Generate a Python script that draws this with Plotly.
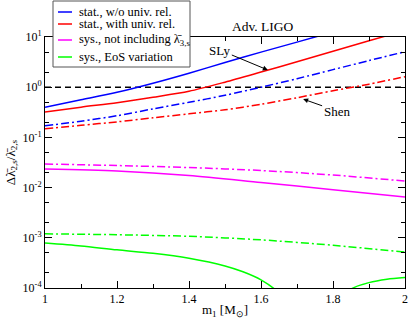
import numpy as np
import plotly.graph_objects as go

# ---- data ----
m_stat = [1.0, 1.1, 1.2, 1.3, 1.4, 1.5, 1.6, 1.7, 1.8, 1.9, 2.0]
blue_solid = [0.40, 0.56, 0.79, 1.2, 1.9, 3.1, 5.0, 7.9, 12.6, 20.0, 32.0]
red_solid = [0.32, 0.40, 0.49, 0.63, 0.83, 1.26, 2.0, 3.2, 5.2, 8.4, 13.5]
blue_dashdot = [0.17, 0.21, 0.27, 0.37, 0.50, 0.69, 1.0, 1.48, 2.24, 3.39, 5.1]
red_dashdot = [0.148, 0.174, 0.204, 0.245, 0.295, 0.355, 0.457, 0.617, 0.85, 1.15, 1.62]

m_sys = [1.0, 1.2, 1.4, 1.6, 1.8, 2.0]
magenta_dashdot = [0.0295, 0.0275, 0.0251, 0.0219, 0.0178, 0.0135]
magenta_solid = [0.0234, 0.0214, 0.0174, 0.0126, 0.0091, 0.0065]
green_dashdot = [0.0012, 0.00115, 0.00107, 0.00091, 0.00071, 0.00052]

m_eos = [1.0, 1.1, 1.2, 1.3, 1.4, 1.5, 1.55, 1.6, 1.65, 1.7, 1.75, 1.8, 1.85, 1.9, 1.95, 2.0]
green_solid = [7.9e-4, 6.9e-4, 5.75e-4, 4.9e-4, 3.9e-4, 2.75e-4, 2.1e-4, 1.45e-4, 8e-5,
               3e-5, 5e-6, 4e-5, 9.5e-5, 1.28e-4, 1.5e-4, 1.62e-4]

threshold_x = [1.0, 2.0]
threshold_y = [1.0, 1.0]

legend_labels = ["stat., w/o univ. rel.", "stat., with univ. rel.",
                 "sys., not including λ̄<sub>3,s</sub>", "sys., EoS variation"]
legend_colors = ["#0000ff", "#ff0000", "#ff00ff", "#00ff00"]

ytick_vals = [1e-4, 1e-3, 1e-2, 1e-1, 1, 10]
ytick_text = ["10<sup>-4</sup>", "10<sup>-3</sup>", "10<sup>-2</sup>", "10<sup>-1</sup>",
              "10<sup>0</sup>", "10<sup>1</sup>"]
xtick_vals = [1.0, 1.2, 1.4, 1.6, 1.8, 2.0]
xtick_text = ["1", "1.2", "1.4", "1.6", "1.8", "2"]

FONT = "Liberation Serif"
DD = "8px,3px,2px,3px"
LW = 1.5

fig = go.Figure()

def add(x, y, color, dash="solid"):
    fig.add_trace(go.Scatter(x=x, y=y, mode="lines", line=dict(color=color, width=LW, dash=dash, shape="spline", smoothing=0.8),
                             showlegend=False, hoverinfo="skip"))

add(threshold_x, threshold_y, "black", "6px,4px")
add(m_stat, blue_solid, "#0000ff")
add(m_stat, red_solid, "#ff0000")
add(m_stat, blue_dashdot, "#0000ff", DD)
add(m_stat, red_dashdot, "#ff0000", DD)
add(m_sys, magenta_dashdot, "#ff00ff", DD)
add(m_sys, magenta_solid, "#ff00ff")
add(m_sys, green_dashdot, "#00ff00", DD)
add(m_eos, green_solid, "#00ff00")

W, H = 409, 319
L, R, T, B = 45, 4, 37, 31
pw, ph = W - L - R, H - T - B

def px2paper(x, y):
    return (x - L) / pw, (H - B - y) / ph

shapes = []
annotations = []
# legend box
x0, y0 = px2paper(53, 1)
x1, y1 = px2paper(190, 67)
shapes.append(dict(type="rect", xref="paper", yref="paper", x0=x0, y0=y1, x1=x1, y1=y0,
                   line=dict(color="#555555", width=1), fillcolor="white", layer="above"))
leg_y = [12, 24, 40, 57]
for lab, col, yy in zip(legend_labels, legend_colors, leg_y):
    lx0, ly = px2paper(58, yy)
    lx1, _ = px2paper(72, yy)
    shapes.append(dict(type="line", xref="paper", yref="paper", x0=lx0, x1=lx1, y0=ly, y1=ly,
                       line=dict(color=col, width=LW), layer="above"))
    tx, ty = px2paper(77, yy)
    annotations.append(dict(text=lab, xref="paper", yref="paper", x=tx, y=ty, xanchor="left", yanchor="middle",
                            showarrow=False, font=dict(family=FONT, size=12.5, color="black")))

# title
tx, ty = px2paper(263, 26)
annotations.append(dict(text="Adv. LIGO", xref="paper", yref="paper", x=tx, y=ty, xanchor="center", yanchor="middle",
                        showarrow=False, font=dict(family=FONT, size=13.5, color="black")))

# arrows
annotations.append(dict(text="SLy", x=1.619, y=np.log10(2.2), xref="x", yref="y", ax=-48, ay=-20,
                        showarrow=True, arrowhead=2, arrowsize=1, arrowwidth=1, arrowcolor="black",
                        font=dict(family=FONT, size=13, color="black")))
annotations.append(dict(text="Shen", x=1.717, y=np.log10(0.58), xref="x", yref="y", ax=34, ay=12,
                        showarrow=True, arrowhead=2, arrowsize=1, arrowwidth=1, arrowcolor="black",
                        font=dict(family=FONT, size=13, color="black")))

axis_common = dict(showline=True, linecolor="black", linewidth=1, mirror="allticks", ticks="inside",
                   tickcolor="black", ticklen=7, tickwidth=1, showgrid=False, zeroline=False,
                   tickfont=dict(family=FONT, size=12, color="black"), automargin=False)

fig.update_layout(
    width=W, height=H, margin=dict(l=L, r=R, t=T, b=B),
    paper_bgcolor="white", plot_bgcolor="white",
    shapes=shapes, annotations=annotations,
    xaxis=dict(range=[1, 2], tickvals=xtick_vals, ticktext=xtick_text,
               minor=dict(ticks="inside", ticklen=4, tickcolor="black", dtick=0.1, showgrid=False),
               title=dict(text="m<sub>1</sub> [M<sub>⊙</sub>]", font=dict(family=FONT, size=13, color="black"), standoff=2),
               **axis_common),
    yaxis=dict(type="log", range=[-4, 1], tickvals=ytick_vals, ticktext=ytick_text,
               minor=dict(ticks="inside", ticklen=4, tickcolor="black", showgrid=False),
               title=dict(text="Δλ̄<sub>2,s</sub>/λ̄<sub>2,s</sub>", font=dict(family=FONT, size=13, color="black"), standoff=4),
               **axis_common),
)

fig.write_html("out.html", config={"displayModeBar": False},
               post_script="document.body.style.margin='0';document.body.style.overflow='hidden';")
